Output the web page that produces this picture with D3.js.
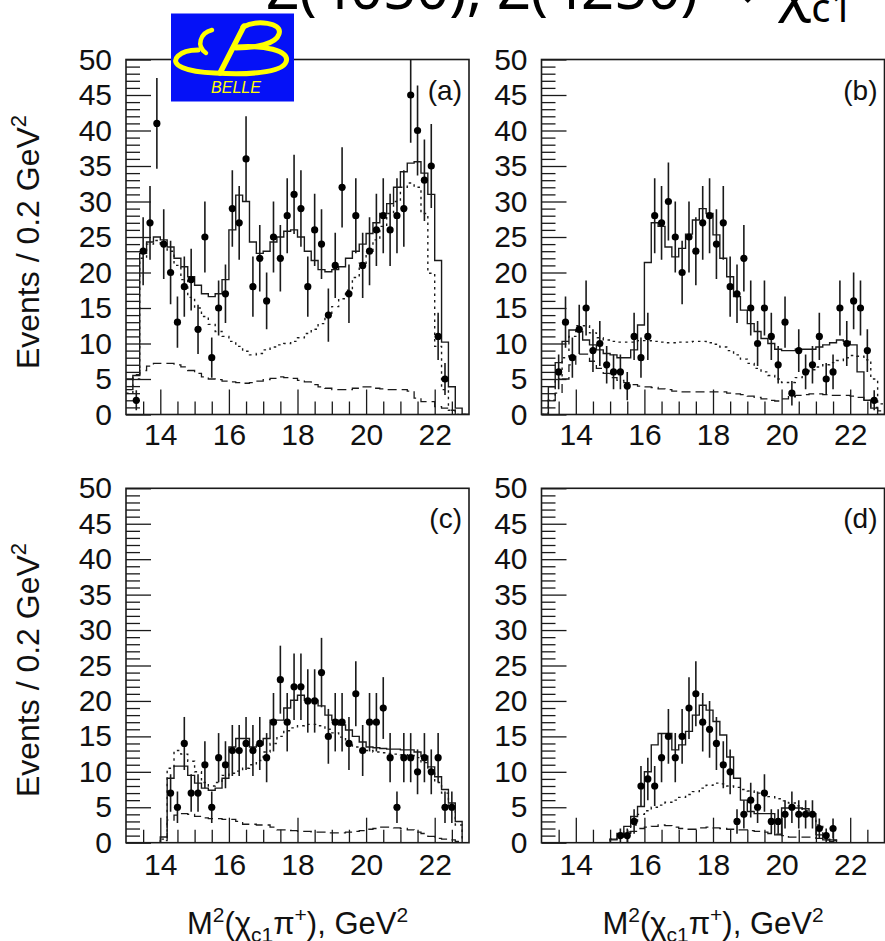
<!DOCTYPE html>
<html><head><meta charset="utf-8">
<script src="https://cdnjs.cloudflare.com/ajax/libs/d3/7.8.5/d3.min.js"></script>
<style>body{margin:0;background:#fff;overflow:hidden}svg{display:block}</style>
</head><body><svg id="c" width="885" height="941"></svg>
<script>
// bin centres, M^2(chi_c1 pi+) in GeV^2, 0.2 GeV^2 bins
const massBins = [13.1,13.3,13.5,13.7,13.9,14.1,14.3,14.5,14.7,14.9,15.1,15.3,15.5,15.7,15.9,16.1,16.3,16.5,16.7,16.9,
  17.1,17.3,17.5,17.7,17.9,18.1,18.3,18.5,18.7,18.9,19.1,19.3,19.5,19.7,19.9,20.1,20.3,20.5,20.7,20.9,
  21.1,21.3,21.5,21.7,21.9,22.1,22.3,22.5,22.7,22.9];
const binWidth = 0.2;
const xTicksMajor = [14,16,18,20,22];
const yTicksMajor = [0,5,10,15,20,25,30,35,40,45,50];
const panelLabels = ["(a)","(b)","(c)","(d)"];

// (a)
const dataA = [null,2,23,27,41,24,20,13,18,19,12,25,8,15,17,29,27,36,18,22,16,25,22,28,31,29,18,26,24,14,21,32,17,28,21,23,26,28,26,28,29,45,40,33,35,11,5,null,null,null];
const fitA  = [3.5,5.5,22.7,24.3,25,24.6,23.6,22,20.8,19.4,18.2,17,16.6,17,19,26,30.9,30,24.3,22.7,23,24.3,25,25.8,26,25,23,21.7,20.4,20.1,20.4,20.8,22,23,24,25.5,27,28.3,29.7,32,34.2,35.4,35.6,34,31,21.7,10.2,3.9,0.9,0];
const dotA  = [3,5,22,24,24.5,24,23,21,19,16.5,15,13.8,12.7,11.7,11,10.3,9.6,8.9,8.4,8.6,9.1,9.5,9.8,10,10.3,10.8,11.4,12,12.8,14,15.2,16.3,17.5,19.3,21.3,23,24.6,26.5,28.3,30,32,32.6,32,28.3,19.9,9.6,3.5,0.6,0,0];
const dashA = [5,5.6,6.2,6.8,7.2,7.2,7.2,7,6.7,6.2,5.8,5.3,5,4.9,4.7,4.6,4.5,4.4,4.5,4.7,4.9,5.1,5.3,5.2,5.1,4.8,4.6,4.2,3.9,3.7,3.5,3.5,3.5,3.7,3.9,3.9,3.7,3.6,3.5,3.5,3.5,3.3,2.3,1.8,1.8,1.1,0.9,0.6,0,0];
// (b)
const dataB = [null,null,6,13,8,12,15,9,10,7,6,6,4,11,8,11,28,27,30,25,20,25,23,27,28,24,27,18,17,22,15,10,15,11,7,13,3,9,6,7,11,5,6,15,10,16,15,9,2,null];
const fitB  = [0,3.9,7.3,10.3,11.9,11.7,10.5,9.8,9.1,8.6,8.4,8,8,9.1,12.6,21.4,27,26.5,23.6,22.2,23.4,25.4,27.4,29,28.3,25.3,22,19.4,16.6,14.7,12.8,11.7,10.7,10,9.2,9,9,9.2,9.2,9.2,9.5,9.8,10.1,10.5,10.3,9.8,6,2,0.9,0];
const dotB  = [0,2,5,8,11,12.5,12.5,11.5,10.8,10.5,10.3,10.2,10.2,10.2,10.4,10.4,10.3,10.2,10.1,10.1,10.2,10.2,10.3,10.3,10.1,9.9,9.5,9,8.4,7.8,7.2,6.5,6,5.5,5,4.5,4.5,5.2,5.8,6.3,6.7,7,7.3,7.6,8,8.3,8.2,7.7,5,1.5];
const dashB = [0,2,3,5,7,8.5,8.5,7.5,6.5,5.8,5.2,4.8,4.5,4.2,4,3.9,3.8,3.6,3.5,3.3,3.2,3.2,3.2,3.2,3.2,3.2,3.2,3,2.9,2.8,2.6,2.4,2.2,2,1.9,2.2,2.5,2.7,2.8,2.9,2.9,2.8,2.7,2.7,2.7,2.6,2.4,2,1,0.5];
// (c)
const dataC = [null,null,null,null,null,null,7,5,14,7,7,11,5,12,11,13,13,14,13,14,12,17,23,17,22,22,20,20,24,15,17,17,14,21,13,17,17,19,12,5,12,12,10,12,10,12,5,5,null,null];
const fitC  = [0,0,0,0,0,0.8,9.1,10.8,10.8,9.5,8.4,7.7,7.4,7.7,9.1,13.5,14.7,14.7,13.5,13.8,14.7,17.3,17.3,19,20.1,20.8,20.1,20.1,19.3,18,17.3,16.6,15.9,15,14.2,13.5,13.4,13.3,13.2,13.2,13.1,13.1,12.8,12.2,10.7,9.3,7.5,5.6,3,0];
const dotC  = [0,0,0,0,0,0.5,10.5,13,12.5,11.5,10,8.5,8,8.5,9.5,9.8,10.1,10.5,11,11.6,12.8,14,15,15.8,16.2,16.5,16.7,16.7,16.5,16,15.5,14.9,14.2,13.5,13.2,13,12.8,12.7,12.6,12.5,12.4,12.3,12,11.3,10,8.5,7,5,2.5,0];
const dashC = [0,0,0,0,0,0.3,3.2,3.9,4.1,4,3.7,3.5,3.4,3.4,3.3,3.3,3,2.6,2.6,2.5,2.5,2.2,1.8,1.8,1.7,1.6,1.6,1.5,1.5,1.4,1.4,1.4,1.5,1.6,1.7,1.9,2,2.2,2.2,2.1,2,1.8,1.5,1.3,0.9,0.6,0.5,0.4,0.2,0];
// (d)
const dataD = [null,null,null,null,null,null,null,null,null,null,null,1,1,3,8,9,8,12,15,12,15,19,21,17,16,14,11,10,3,4,6,5,7,3,3,4,5,4,4,4,2,1,2,null,null,null,null,null,null,null];
const fitD  = [0,0,0,0,0,0,0,0,0,0,0.4,1.3,2.3,3.7,5.1,10,13.8,15.4,15.4,13.1,13.8,15.7,18,19.4,18.7,17.1,15.2,12.1,9.1,6,4.4,4.1,4.1,4.1,1.1,4.9,4.9,4.9,4.8,4.1,1.1,0.4,0.4,0,0,0,0,0,0,0];
const dotD  = [0,0,0,0,0,0,0,0,0,0,0.5,1,1.5,2.5,4,4.5,5,5.3,5.7,6,6.4,6.8,7.2,7.7,8.1,8.4,8.3,8,7.8,7.5,7.3,7,6.8,6.5,6.2,5.9,5.6,5.2,4.5,3.8,2.5,0.9,0.3,0,0,0,0,0,0,0];
const dashD = [0,0,0,0,0,0,0,0,0,0,0.5,0.8,1.2,1.6,2,2.2,2.3,2.5,2.4,2.2,2,1.9,1.9,2.1,2.2,2.1,2,1.9,1.8,1.8,1.7,1.6,1.5,1.3,1.2,1,0.8,0.8,0.8,0.8,0.6,0.4,0.2,0,0,0,0,0,0,0];

const svg = d3.select('#c');
const W = 343, FONT = "'Liberation Sans', Arial, Helvetica, sans-serif";
const INK = '#1a1a1a';

const panels = [
  {left:126,   top:59.5,  bottom:414.5, pad:9,  data:dataA, fit:fitA, dot:dotA, dash:dashA},
  {left:541.5, top:59.5,  bottom:414.5, pad:9,  data:dataB, fit:fitB, dot:dotB, dash:dashB},
  {left:126,   top:488.3, bottom:842.7, pad:11, data:dataC, fit:fitC, dot:dotC, dash:dashC},
  {left:541.5, top:488.3, bottom:842.7, pad:11, data:dataD, fit:fitD, dot:dotD, dash:dashD}
];

const defs = svg.append('defs');

panels.forEach((p, pi) => {
  const x = d3.scaleLinear().domain([13, 23]).range([p.left, p.left + W]);
  const y = d3.scaleLinear().domain([0, 50]).range([p.bottom, p.top]);
  const g = svg.append('g');

  defs.append('clipPath').attr('id', 'clip' + pi).append('rect')
    .attr('x', p.left).attr('y', p.top).attr('width', W).attr('height', p.bottom - p.top);

  // minor ticks
  const yMinor = d3.range(0, 51, 1).filter(v => v % 5 !== 0);
  const xMinor = d3.range(13.5, 23, 0.5).filter(v => v % 2 !== 0);
  g.append('g').attr('transform', `translate(${p.left},0)`)
    .call(d3.axisLeft(y).tickValues(yMinor).tickSize(-14).tickFormat(''))
    .call(a => a.select('.domain').remove());
  g.append('g').attr('transform', `translate(0,${p.bottom})`)
    .call(d3.axisBottom(x).tickValues(xMinor).tickSize(-13).tickFormat(''))
    .call(a => a.select('.domain').remove());
  // major ticks + labels
  g.append('g').attr('transform', `translate(${p.left},0)`)
    .call(d3.axisLeft(y).tickValues(yTicksMajor).tickSize(-25).tickPadding(14).tickFormat(d3.format('d')))
    .call(a => a.select('.domain').remove());
  g.append('g').attr('transform', `translate(0,${p.bottom})`)
    .call(d3.axisBottom(x).tickValues(xTicksMajor).tickSize(-25).tickPadding(p.pad).tickFormat(d3.format('d')))
    .call(a => a.select('.domain').remove());
  g.selectAll('.tick line').attr('stroke', INK).attr('stroke-width', 1.3);
  g.selectAll('.tick text').attr('font-family', FONT).attr('font-size', 30).attr('fill', '#111');

  const body = g.append('g').attr('clip-path', `url(#clip${pi})`);

  // histograms
  const stepPts = arr => {
    const pts = [];
    arr.forEach((v, i) => {
      const c = massBins[i];
      pts.push([c - binWidth / 2, v], [c + binWidth / 2, v]);
    });
    return pts;
  };
  const line = d3.line().x(d => x(d[0])).y(d => y(d[1]));
  const hist = (arr, dash, w) => body.append('path').attr('d', line(stepPts(arr)))
    .attr('fill', 'none').attr('stroke', INK).attr('stroke-width', w)
    .attr('stroke-dasharray', dash);
  hist(p.dash, '9,5', 1.3);
  hist(p.dot, '2.5,4', 1.4);
  hist(p.fit, null, 1.4);

  // data points with sqrt(N) errors
  const pts = massBins.map((m, i) => ({m, n: p.data[i]})).filter(d => d.n !== null);
  body.selectAll('line.err').data(pts).enter().append('line')
    .attr('x1', d => x(d.m)).attr('x2', d => x(d.m))
    .attr('y1', d => y(d.n + Math.sqrt(d.n))).attr('y2', d => y(Math.max(0, d.n - Math.sqrt(d.n))))
    .attr('stroke', INK).attr('stroke-width', 1.6);
  body.selectAll('circle.pt').data(pts).enter().append('circle')
    .attr('cx', d => x(d.m)).attr('cy', d => y(d.n)).attr('r', 3.6).attr('fill', '#000');

  // frame
  g.append('rect').attr('x', p.left).attr('y', p.top).attr('width', W).attr('height', p.bottom - p.top)
    .attr('fill', 'none').attr('stroke', INK).attr('stroke-width', 1.6);

  // panel label
  g.append('text').attr('x', p.left + W - 7).attr('y', p.top + 40)
    .attr('text-anchor', 'end').attr('font-family', FONT).attr('font-size', 28).attr('fill', '#111')
    .text(panelLabels[pi]);
});

// y titles
[242, 670].forEach(cy => {
  const t = svg.append('text').attr('transform', `translate(38.5,${cy}) rotate(-90)`)
    .attr('text-anchor', 'middle').attr('font-family', FONT).attr('font-size', 32).attr('fill', '#111');
  t.append('tspan').text('Events / 0.2 GeV');
  t.append('tspan').attr('dy', -13).attr('font-size', 22).text('2');
});
// x titles
[297.5, 713].forEach(cx => {
  const t = svg.append('text').attr('x', cx).attr('y', 934)
    .attr('text-anchor', 'middle').attr('font-family', FONT).attr('font-size', 31).attr('fill', '#111');
  t.append('tspan').text('M');
  t.append('tspan').attr('dy', -12).attr('font-size', 21).text('2');
  t.append('tspan').attr('dy', 12).text('(χ');
  t.append('tspan').attr('dy', 8).attr('font-size', 21).text('c1');
  t.append('tspan').attr('dy', -8).text('π');
  t.append('tspan').attr('dy', -12).attr('font-size', 21).text('+');
  t.append('tspan').attr('dy', 12).text('), GeV');
  t.append('tspan').attr('dy', -12).attr('font-size', 21).text('2');
});

// slide title, cut by the top edge of the picture (only the lowest parts show)
const tt = svg.append('text').attr('transform', 'translate(266,9)')
  .attr('font-family', "'Noto Sans', 'DejaVu Sans', sans-serif").attr('font-size', 58).attr('fill', '#000');
tt.append('tspan').text('Z(4050), Z(4250) → χ');
tt.append('tspan').attr('font-size', 40).attr('dy', 13).text('c1');

// Belle logo
const logo = svg.append('g');
logo.append('rect').attr('x', 171).attr('y', 13.5).attr('width', 123).attr('height', 88).attr('fill', '#0511f7');
const Y = '#ffff00';
const stroke = (d, w) => logo.append('path').attr('d', d).attr('fill', 'none').attr('stroke', Y)
  .attr('stroke-width', w).attr('stroke-linecap', 'round');
stroke('M212,30 C200,33 196,46 206,53', 4.5);
stroke('M243,27 C256,20 283,22 279,34 C276,44 256,48 236,48', 5);
stroke('M244,26 L220,73', 5.5);
stroke('M236,47 C262,45 291,50 286,62 C282,73 246,75 215,73 C186,72 169,65 178,56 C182,52 190,50 198,50', 5);
logo.append('text').attr('x', 236).attr('y', 93).attr('text-anchor', 'middle')
  .attr('font-family', FONT).attr('font-style', 'italic').attr('font-size', 16).attr('fill', Y).text('BELLE');
</script>
</body></html>
